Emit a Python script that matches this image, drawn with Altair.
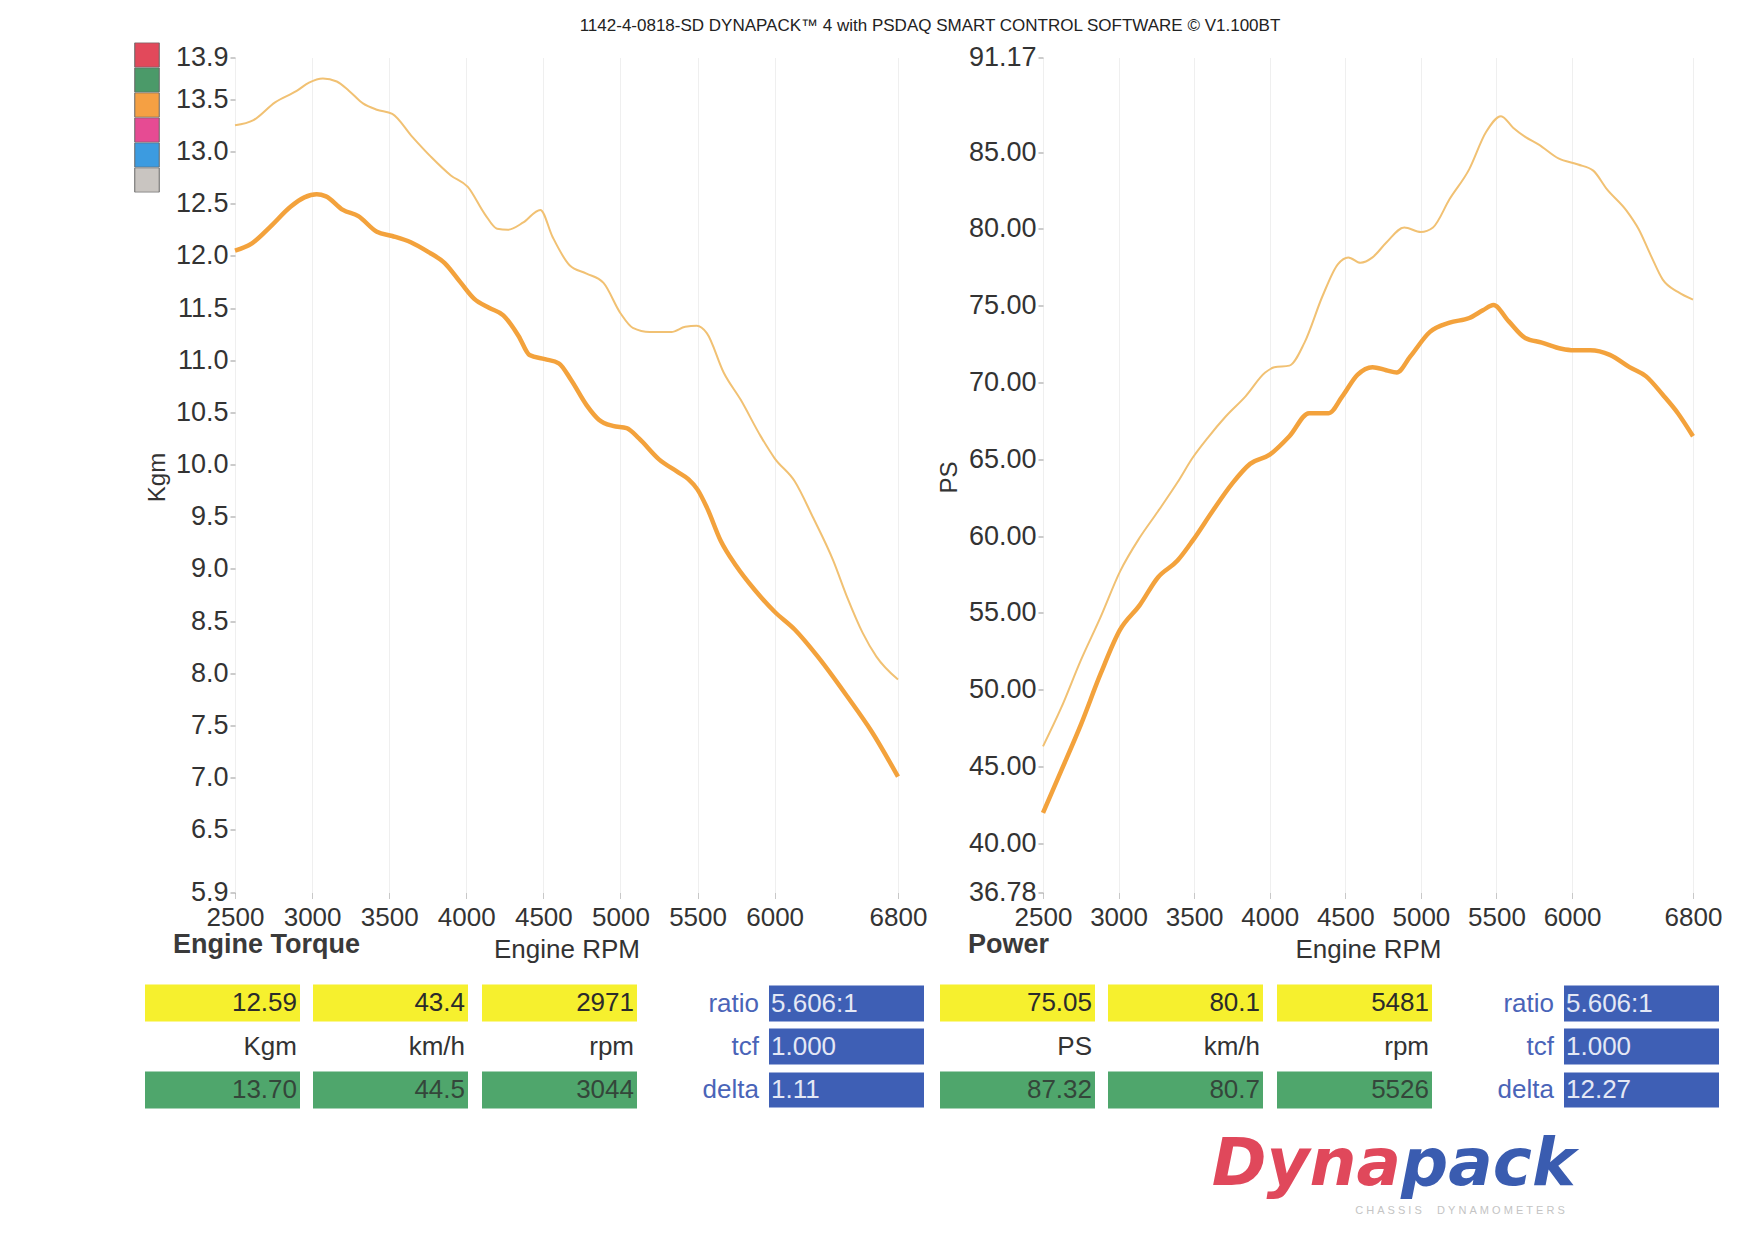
import altair as alt
import pandas as pd

FONT = "Liberation Sans"

# ENGINE TORQUE (Kgm) - thin curve = max run, thick curve = current run
tq_hi_rpm = [2500, 2620, 2760, 2900, 2980, 3070, 3160, 3240, 3330, 3420, 3520, 3650, 3770, 3900,
             4010, 4120, 4200, 4270, 4370, 4480, 4560, 4670, 4780, 4890, 5000, 5080, 5190, 5330,
             5420, 5495, 5560, 5670, 5780, 5910, 6000, 6130, 6250, 6380, 6470, 6570, 6660, 6800]
tq_hi = [13.25, 13.30, 13.47, 13.58, 13.66, 13.70, 13.67, 13.58, 13.46, 13.40, 13.36, 13.14, 12.95, 12.77,
         12.66, 12.40, 12.26, 12.25, 12.32, 12.44, 12.18, 11.91, 11.83, 11.74, 11.45, 11.31, 11.27, 11.27,
         11.32, 11.33, 11.26, 10.88, 10.62, 10.27, 10.06, 9.84, 9.49, 9.08, 8.73, 8.39, 8.16, 7.94]
tq_lo_rpm = [2500, 2610, 2730, 2860, 2950, 3030, 3090, 3200, 3300, 3420, 3520, 3640, 3750, 3860,
             3960, 4050, 4150, 4240, 4340, 4410, 4510, 4600, 4680, 4780, 4860, 4950, 5040, 5120,
             5250, 5370, 5440, 5500, 5560, 5650, 5750, 5870, 6000, 6130, 6280, 6470, 6630, 6800]
tq_lo = [12.05, 12.12, 12.28, 12.47, 12.56, 12.59, 12.57, 12.44, 12.38, 12.23, 12.19, 12.13, 12.04, 11.93,
         11.75, 11.59, 11.50, 11.43, 11.23, 11.05, 11.01, 10.97, 10.81, 10.57, 10.43, 10.37, 10.35, 10.25,
         10.05, 9.93, 9.86, 9.76, 9.59, 9.27, 9.03, 8.80, 8.59, 8.42, 8.16, 7.78, 7.44, 7.01]

# POWER (PS)
ps_hi_rpm = [2500, 2620, 2750, 2880, 3010, 3140, 3260, 3390, 3490, 3590, 3710, 3840, 3970, 4030,
             4130, 4230, 4350, 4450, 4520, 4600, 4680, 4770, 4890, 5000, 5080, 5190, 5320, 5430,
             5530, 5610, 5690, 5780, 5910, 6040, 6140, 6230, 6360, 6440, 6520, 6600, 6700, 6800]
ps_hi = [46.3, 48.8, 51.9, 54.7, 57.7, 59.9, 61.6, 63.5, 65.1, 66.4, 67.8, 69.1, 70.65, 71.0,
         71.1, 72.6, 75.65, 77.7, 78.15, 77.8, 78.15, 79.1, 80.1, 79.8, 80.1, 81.95, 83.9, 86.3,
         87.35, 86.6, 86.0, 85.5, 84.6, 84.2, 83.8, 82.6, 81.2, 80.0, 78.3, 76.7, 75.9, 75.4]
ps_lo_rpm = [2500, 2620, 2750, 2880, 3010, 3140, 3260, 3390, 3490, 3620, 3750, 3870, 4000, 4130,
             4260, 4390, 4480, 4580, 4680, 4770, 4840, 4930, 5060, 5190, 5320, 5410, 5480, 5580,
             5690, 5800, 5930, 6010, 6120, 6250, 6380, 6490, 6600, 6700, 6800]
ps_lo = [41.96, 44.7, 47.7, 51.0, 53.9, 55.5, 57.3, 58.4, 59.7, 61.6, 63.4, 64.7, 65.3, 66.5,
         68.0, 68.0, 69.1, 70.5, 71.0, 70.8, 70.65, 71.7, 73.3, 73.9, 74.2, 74.7, 75.05, 74.0,
         72.9, 72.6, 72.2, 72.1, 72.1, 71.8, 71.0, 70.4, 69.2, 68.0, 66.5]

rpm_ticks = [2500, 3000, 3500, 4000, 4500, 5000, 5500, 6000, 6800]
kgm_ticks = [5.9, 6.5, 7.0, 7.5, 8.0, 8.5, 9.0, 9.5, 10.0, 10.5, 11.0, 11.5, 12.0, 12.5, 13.0, 13.5, 13.9]
ps_ticks = [36.78, 40, 45, 50, 55, 60, 65, 70, 75, 80, 85, 91.17]

# run swatches (top left)
runs = ["run 1", "run 2", "run 3", "run 4", "run 5", "run 6"]
run_colors = ["#e2495b", "#4b9a69", "#f5a043", "#e64b93", "#3c9be0", "#c9c5c1"]

# readout boxes
tq_cursor = ["12.59", "43.4", "2971"]
tq_units = ["Kgm", "km/h", "rpm"]
tq_max = ["13.70", "44.5", "3044"]
tq_setup = ["5.606:1", "1.000", "1.11"]
ps_cursor = ["75.05", "80.1", "5481"]
ps_units = ["PS", "km/h", "rpm"]
ps_max = ["87.32", "80.7", "5526"]
ps_setup = ["5.606:1", "1.000", "12.27"]
setup_labels = ["ratio", "tcf", "delta"]

THIN = "#f1c173"
THICK = "#f3a23c"
PLOT_TOP = 56
PLOT_H = 835


def panel(hi_rpm, hi, lo_rpm, lo, y_ticks, y_fmt, y_title, title_x, width, legend):
    df = pd.concat([
        pd.DataFrame({"rpm": hi_rpm, "val": hi, "run": "max"}),
        pd.DataFrame({"rpm": lo_rpm, "val": lo, "run": "cur"}),
    ])
    x = alt.X("rpm:Q", scale=alt.Scale(domain=[2500, 6800], nice=False, zero=False),
              axis=alt.Axis(values=rpm_ticks, format="d", labelFlush=False, labelOverlap=False,
                            grid=True, gridColor="#efefef", domain=False, tickColor="#c8c8c8",
                            tickSize=6, labelPadding=6, labelFontSize=26, labelColor="#333",
                            labelFont=FONT, title="Engine RPM", titleFont=FONT, titleFontSize=26,
                            titleFontWeight="normal", titleColor="#333", titlePadding=6))
    y = alt.Y("val:Q", scale=alt.Scale(domain=[y_ticks[0], y_ticks[-1]], nice=False, zero=False),
              axis=alt.Axis(values=y_ticks, format=y_fmt, labelFlush=False, labelOverlap=False,
                            grid=False, domain=False, tickColor="#999", tickSize=5, labelPadding=2,
                            labelFontSize=27, labelColor="#333", labelFont=FONT, title=y_title,
                            titleFont=FONT, titleFontSize=24, titleFontWeight="normal",
                            titleColor="#333", titleX=title_x, titleY=PLOT_H / 2 + 2,
                            titleAlign="center", titleBaseline="middle", titleAngle=270))
    base = alt.Chart(df)
    thin = base.transform_filter(alt.datum.run == "max").mark_line(
        color=THIN, strokeWidth=2, interpolate="monotone").encode(x=x, y=y)
    thick = base.transform_filter(alt.datum.run == "cur").mark_line(
        color=THICK, strokeWidth=4.5, interpolate="monotone").encode(x=x, y=y)
    layers = [thin, thick]
    if legend:
        sw = pd.DataFrame({"run": runs, "rpm": 2500, "val": y_ticks[-1]})
        leg = alt.Chart(sw).mark_rect(strokeWidth=0).encode(
            x=x, x2=alt.X2("rpm"), y=y, y2=alt.Y2("val"),
            color=alt.Color("run:N", scale=alt.Scale(domain=runs, range=run_colors),
                            legend=alt.Legend(orient="none", legendX=-101, legendY=-15, title=None,
                                              labelExpr="''", symbolType="square", symbolSize=600,
                                              symbolStrokeColor="#666", symbolStrokeWidth=1,
                                              rowPadding=0, clipHeight=25, padding=0, offset=0,
                                              symbolOffset=0, labelOffset=0)))
        layers.insert(0, leg)
    return alt.layer(*layers).properties(width=width, height=PLOT_H)


left = panel(tq_hi_rpm, tq_hi, tq_lo_rpm, tq_lo, kgm_ticks, ".1f", "Kgm", -78, 663, True)
right = panel(ps_hi_rpm, ps_hi, ps_lo_rpm, ps_lo, ps_ticks, ".2f", "PS", -94, 650, False)

# FOOTER (readout table + logo), laid out in page pixels
FOOT_X0, FOOT_W = 235, 1458
FOOT_Y0, FOOT_H = 930, 290
YELLOW, GREEN, BLUE = "#f6f02e", "#4fa66c", "#3e5fb5"
GROUP_X = [145, 940]
CELL_DX = [0, 168, 337]
CELL_W = 155
BLUE_DX = 624
VAL_ROWS = [(983, 1020), (1027, 1063), (1070, 1107)]
BLUE_ROWS = [(984, 1020), (1027, 1063), (1071, 1106)]

rects, txt_r, txt_l = [], [], []
for gx, cur, units, mx, setup in [(GROUP_X[0], tq_cursor, tq_units, tq_max, tq_setup),
                                  (GROUP_X[1], ps_cursor, ps_units, ps_max, ps_setup)]:
    for i in range(3):
        x0 = gx + CELL_DX[i]
        rects.append(dict(x=x0, x2=x0 + CELL_W, y=VAL_ROWS[0][0], y2=VAL_ROWS[0][1], c=YELLOW))
        rects.append(dict(x=x0, x2=x0 + CELL_W, y=VAL_ROWS[2][0], y2=VAL_ROWS[2][1], c=GREEN))
        txt_r.append(dict(x=x0 + CELL_W - 3, y=sum(VAL_ROWS[0]) / 2, t=cur[i], c="#2b2b2b"))
        txt_r.append(dict(x=x0 + CELL_W - 3, y=sum(VAL_ROWS[1]) / 2, t=units[i], c="#333"))
        txt_r.append(dict(x=x0 + CELL_W - 3, y=sum(VAL_ROWS[2]) / 2, t=mx[i], c="#34463a"))
    bx = gx + BLUE_DX
    for r in range(3):
        rects.append(dict(x=bx, x2=bx + CELL_W, y=BLUE_ROWS[r][0], y2=BLUE_ROWS[r][1], c=BLUE))
        txt_r.append(dict(x=bx - 10, y=sum(BLUE_ROWS[r]) / 2, t=setup_labels[r], c="#4a64b8"))
        txt_l.append(dict(x=bx + 2, y=sum(BLUE_ROWS[r]) / 2, t=setup[r], c="#e4e8f5"))

fx = alt.Scale(domain=[FOOT_X0, FOOT_X0 + FOOT_W], nice=False, zero=False)
fy = alt.Scale(domain=[FOOT_Y0, FOOT_Y0 + FOOT_H], nice=False, zero=False, reverse=True)
X = alt.X("x:Q", scale=fx, axis=None)
Y = alt.Y("y:Q", scale=fy, axis=None)

boxes = alt.Chart(pd.DataFrame(rects)).mark_rect().encode(
    x=X, x2="x2", y=Y, y2="y2", color=alt.Color("c:N", scale=None))
right_txt = alt.Chart(pd.DataFrame(txt_r)).mark_text(
    align="right", baseline="middle", font=FONT, fontSize=26).encode(
    x=X, y=Y, text="t:N", color=alt.Color("c:N", scale=None))
left_txt = alt.Chart(pd.DataFrame(txt_l)).mark_text(
    align="left", baseline="middle", font=FONT, fontSize=26).encode(
    x=X, y=Y, text="t:N", color=alt.Color("c:N", scale=None))
heads = alt.Chart(pd.DataFrame({"x": [173, 968], "y": [943, 943], "t": ["Engine Torque", "Power"]})).mark_text(
    align="left", baseline="middle", font=FONT, fontSize=27, fontWeight="bold", color="#3a3a3a").encode(
    x=X, y=Y, text="t:N")
logo_a = alt.Chart(pd.DataFrame({"x": [1401], "y": [1163], "t": ["Dyna"]})).mark_text(
    align="right", baseline="middle", font="DejaVu Sans", fontSize=66, fontWeight="bold",
    fontStyle="italic", color="#e0485b").encode(x=X, y=Y, text="t:N")
logo_b = alt.Chart(pd.DataFrame({"x": [1401], "y": [1163], "t": ["pack"]})).mark_text(
    align="left", baseline="middle", font="DejaVu Sans", fontSize=66, fontWeight="bold",
    fontStyle="italic", color="#3a5cb0").encode(x=X, y=Y, text="t:N")
NB = "\u00a0"
tagline = NB.join((NB * 2).join(["CHASSIS", "DYNAMOMETERS"]))
logo_c = alt.Chart(pd.DataFrame({"x": [1460], "y": [1209], "t": [tagline]})).mark_text(
    align="center", baseline="middle", font=FONT, fontSize=11, color="#c4c4c4").encode(
    x=X, y=Y, text="t:N")

footer = alt.layer(boxes, right_txt, left_txt, heads, logo_a, logo_b, logo_c).properties(
    width=FOOT_W, height=FOOT_H)

# flush layout: the nested hconcat adds no height of its own, so the gap runs from the plot top
top = alt.hconcat(left, right, spacing=145, bounds="flush")
chart = alt.vconcat(top, footer, spacing=FOOT_Y0 - PLOT_TOP, bounds="flush").properties(
    title=alt.Title("1142-4-0818-SD DYNAPACK™ 4 with PSDAQ SMART CONTROL SOFTWARE © V1.100BT",
                    font=FONT, fontSize=17, fontWeight="normal", color="#222", anchor="middle",
                    dx=2, offset=8),
    padding={"left": 126, "top": 8.5, "right": 0, "bottom": 0},
).configure_view(strokeWidth=0)

chart.save("out.html", embed_options={"renderer": "svg", "actions": False})
